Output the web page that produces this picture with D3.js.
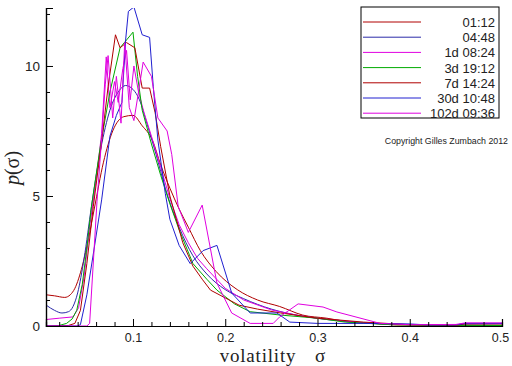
<!DOCTYPE html>
<html>
<head>
<meta charset="utf-8">
<script src="https://cdn.jsdelivr.net/npm/d3@7"></script>
<style>
  body { margin: 0; background: #fff; }
  svg { display: block; }
</style>
</head>
<body>
<div id="wrapper"></div>
<script>
// 1. Data ([volatility, density])

const lagNames = ["01:12", "04:48", "1d 08:24", "3d 19:12", "7d 14:24", "30d 10:48", "102d 09:36"]
const lagColors = ["#b00000", "#2a2aa8", "#e000e0", "#00aa00", "#b00000", "#2020d0", "#e000e0"]

const lag0112 = [[0.006,1.2],[0.015,1.16],[0.026,1.1],[0.032,1.2],[0.037,1.45],[0.045,2.3],[0.052,3.4],[0.058,4.5],[0.068,6.3],[0.078,7.5],[0.09,8.05],[0.1,8.1],[0.11,7.7],[0.121,7.15],[0.13,6.2],[0.14,5.3],[0.15,4.5],[0.16,3.8],[0.173,2.9],[0.19,2.1],[0.213,1.4],[0.235,1.0],[0.259,0.75],[0.284,0.42],[0.31,0.3],[0.332,0.17],[0.36,0.1],[0.386,0.04],[0.42,0.03],[0.5,0.02]]
const lag0448 = [[0.006,0.8],[0.015,0.6],[0.023,0.5],[0.03,0.55],[0.035,0.75],[0.04,1.27],[0.047,2.6],[0.055,4.6],[0.065,6.8],[0.075,8.3],[0.085,9.05],[0.092,9.25],[0.1,9.1],[0.107,8.7],[0.115,7.8],[0.125,6.6],[0.135,5.3],[0.15,3.8],[0.165,2.7],[0.18,2.0],[0.2,1.4],[0.22,1.05],[0.25,0.65],[0.28,0.4],[0.31,0.25],[0.35,0.12],[0.4,0.05],[0.45,0.04],[0.5,0.03]]
const lag1d = [[0.006,0.25],[0.02,0.3],[0.035,0.35],[0.041,0.7],[0.047,1.9],[0.053,3.8],[0.06,5.6],[0.066,7.4],[0.071,10.35],[0.075,8.4],[0.08,9.4],[0.084,8.6],[0.089,9.9],[0.093,10.6],[0.097,8.7],[0.101,10.0],[0.106,9.0],[0.112,8.2],[0.12,7.3],[0.13,6.1],[0.14,4.9],[0.15,3.9],[0.16,3.2],[0.17,2.6],[0.18,2.2],[0.2,1.45],[0.22,1.0],[0.25,0.62],[0.28,0.4],[0.3,0.3],[0.35,0.12],[0.4,0.05],[0.45,0.04],[0.46,0.1],[0.5,0.1]]
const lag3d = [[0.006,0.0],[0.02,0.02],[0.028,0.1],[0.034,0.27],[0.039,0.6],[0.045,1.6],[0.05,3.0],[0.055,4.6],[0.065,7.0],[0.075,9.0],[0.086,10.7],[0.1,11.3],[0.105,9.6],[0.11,8.3],[0.12,7.0],[0.13,5.8],[0.14,4.7],[0.15,3.7],[0.165,2.4],[0.18,1.8],[0.191,1.38],[0.21,0.85],[0.227,0.55],[0.26,0.42],[0.3,0.3],[0.33,0.15],[0.38,0.05],[0.42,0.03],[0.5,0.02]]
const lag7d = [[0.006,0.0],[0.03,0.02],[0.037,0.1],[0.043,0.6],[0.05,2.4],[0.057,4.6],[0.065,6.8],[0.073,9.2],[0.081,11.2],[0.086,10.7],[0.093,10.9],[0.102,10.7],[0.11,9.15],[0.118,9.15],[0.124,8.2],[0.13,6.9],[0.14,5.0],[0.154,3.2],[0.165,2.3],[0.175,1.8],[0.184,1.38],[0.2,1.08],[0.215,0.8],[0.235,0.65],[0.26,0.5],[0.3,0.3],[0.35,0.15],[0.4,0.05],[0.45,0.03],[0.46,0.08],[0.5,0.08]]
const lag30d = [[0.006,0.0],[0.04,0.0],[0.043,0.05],[0.05,1.2],[0.058,3.0],[0.066,4.85],[0.075,7.3],[0.082,8.1],[0.088,8.6],[0.092,11.0],[0.095,12.1],[0.101,12.27],[0.11,11.2],[0.118,11.1],[0.122,9.2],[0.127,7.15],[0.135,5.1],[0.14,4.1],[0.15,3.1],[0.162,2.4],[0.176,2.9],[0.191,3.1],[0.207,1.27],[0.227,0.5],[0.256,0.5],[0.27,0.15],[0.3,0.1],[0.35,0.1],[0.4,0.08],[0.42,0.04],[0.45,0.04],[0.46,0.1],[0.5,0.1]]
const lag102d = [[0.006,0.0],[0.05,0.0],[0.053,0.1],[0.061,4.8],[0.066,7.2],[0.07,9.3],[0.073,10.4],[0.078,8.0],[0.082,9.6],[0.087,7.8],[0.091,10.9],[0.096,8.4],[0.101,7.9],[0.106,9.0],[0.111,10.15],[0.12,9.6],[0.127,8.0],[0.137,7.5],[0.142,6.6],[0.149,4.6],[0.16,3.6],[0.175,4.65],[0.191,1.65],[0.207,0.5],[0.227,0.1],[0.252,0.1],[0.259,0.35],[0.279,0.85],[0.306,0.73],[0.321,0.54],[0.368,0.1],[0.4,0.05],[0.45,0.06],[0.46,0.12],[0.5,0.12]]

const lagSeries = [lag0112, lag0448, lag1d, lag3d, lag7d, lag30d, lag102d]
const smoothLags = [true, true, false, false, false, false, false]

const xTickValues = [0.1, 0.2, 0.3, 0.4, 0.5]
const yTickValues = [0, 5, 10]

// 2. Dimensions

let dimensions = {
  width: 512,
  height: 366,
  margin: { top: 8, right: 10, bottom: 40, left: 46 },
}
dimensions.boundedWidth = dimensions.width - dimensions.margin.left - dimensions.margin.right
dimensions.boundedHeight = dimensions.height - dimensions.margin.top - dimensions.margin.bottom

// 3. Canvas

const wrapper = d3.select("#wrapper")
  .append("svg")
  .attr("width", dimensions.width)
  .attr("height", dimensions.height)

const bounds = wrapper.append("g")
  .attr("transform", `translate(${dimensions.margin.left},${dimensions.margin.top})`)

// 4. Scales

const xScale = d3.scaleLinear()
  .domain([0.0057, 0.5])
  .range([0, dimensions.boundedWidth])

const yScale = d3.scaleLinear()
  .domain([0, 12.23])
  .range([dimensions.boundedHeight, 0])

// 5. Lines

bounds.append("clipPath").attr("id", "plot-clip")
  .append("rect")
  .attr("width", dimensions.boundedWidth + 1)
  .attr("height", dimensions.boundedHeight)

const linesGroup = bounds.append("g").attr("clip-path", "url(#plot-clip)")

lagSeries.forEach((series, i) => {
  const lineGenerator = d3.line()
    .x(d => xScale(d[0]))
    .y(d => yScale(d[1]))
    .curve(smoothLags[i] ? d3.curveMonotoneX : d3.curveLinear)
  linesGroup.append("path")
    .attr("d", lineGenerator(series))
    .attr("fill", "none")
    .attr("stroke", lagColors[i])
    .attr("stroke-width", 1)
})

// 6. Axes (ticks point inward)

const minorX = d3.range(0.02, 0.501, 0.02).filter(v => Math.abs(v * 10 - Math.round(v * 10)) > 1e-6)
const minorY = d3.range(1, 13).filter(v => v % 5 !== 0)

const xAxisGen = d3.axisTop(xScale).tickValues(xTickValues).tickSize(7).tickFormat(d3.format(".1f"))
const xMinorGen = d3.axisTop(xScale).tickValues(minorX).tickSize(4).tickFormat("")
const yAxisGen = d3.axisRight(yScale).tickValues(yTickValues).tickSize(7).tickFormat(d3.format("d"))
const yMinorGen = d3.axisRight(yScale).tickValues(minorY).tickSize(4).tickFormat("")

const axisX = bounds.append("g").attr("transform", `translate(0,${dimensions.boundedHeight})`).call(xAxisGen)
bounds.append("g").attr("transform", `translate(0,${dimensions.boundedHeight})`).call(xMinorGen)
const axisY = bounds.append("g").call(yAxisGen)
bounds.append("g").call(yMinorGen)

bounds.selectAll(".domain").attr("stroke", "#000").attr("stroke-width", 1.2)
bounds.selectAll(".tick line").attr("stroke", "#000")

axisX.selectAll("text")
  .attr("y", 16)
  .attr("dy", 0)
  .attr("font-family", "Liberation Sans, sans-serif")
  .attr("font-size", 12.5)
  .attr("fill", "#222")
axisX.selectAll(".tick").filter(d => d === 0.5).select("text").attr("x", -2)

axisY.selectAll("text")
  .attr("x", -6)
  .attr("text-anchor", "end")
  .attr("dy", "0.35em")
  .attr("font-family", "Liberation Sans, sans-serif")
  .attr("font-size", 13.5)
  .attr("fill", "#222")

// 7. Axis labels

wrapper.append("text")
  .attr("x", 258)
  .attr("y", 362)
  .attr("text-anchor", "middle")
  .attr("font-family", "Liberation Serif, serif")
  .attr("font-size", 19)
  .attr("letter-spacing", 0.8)
  .attr("fill", "#222")
  .text("volatility")

wrapper.append("text")
  .attr("x", 320)
  .attr("y", 362)
  .attr("text-anchor", "middle")
  .attr("font-family", "Liberation Serif, serif")
  .attr("font-size", 19)
  .attr("fill", "#222")
  .text("σ")

const yLabel = wrapper.append("text")
  .attr("transform", "translate(19,168) rotate(-90)")
  .attr("text-anchor", "middle")
  .attr("font-family", "Liberation Serif, serif")
  .attr("font-size", 20)
  .attr("fill", "#222")
yLabel.append("tspan").attr("font-style", "italic").text("p")
yLabel.append("tspan").text("(σ)")

// 8. Legend

const legend = wrapper.append("g").attr("transform", "translate(361,7)")
legend.append("rect")
  .attr("width", 138)
  .attr("height", 111)
  .attr("fill", "#fff")
  .attr("stroke", "#000")
  .attr("stroke-width", 1)

lagNames.forEach((name, i) => {
  const rowY = 15 + i * 15.2
  legend.append("line")
    .attr("x1", 2).attr("x2", 60)
    .attr("y1", rowY).attr("y2", rowY)
    .attr("stroke", lagColors[i])
    .attr("stroke-width", 1)
  legend.append("text")
    .attr("x", 134)
    .attr("y", rowY + 5)
    .attr("text-anchor", "end")
    .attr("font-family", "Liberation Sans, sans-serif")
    .attr("font-size", 13)
    .attr("fill", "#222")
    .text(name)
})

wrapper.append("text")
  .attr("x", 508)
  .attr("y", 144)
  .attr("text-anchor", "end")
  .attr("font-family", "Liberation Sans, sans-serif")
  .attr("font-size", 8.8)
  .attr("fill", "#222")
  .text("Copyright Gilles Zumbach 2012")
</script>
</body>
</html>
